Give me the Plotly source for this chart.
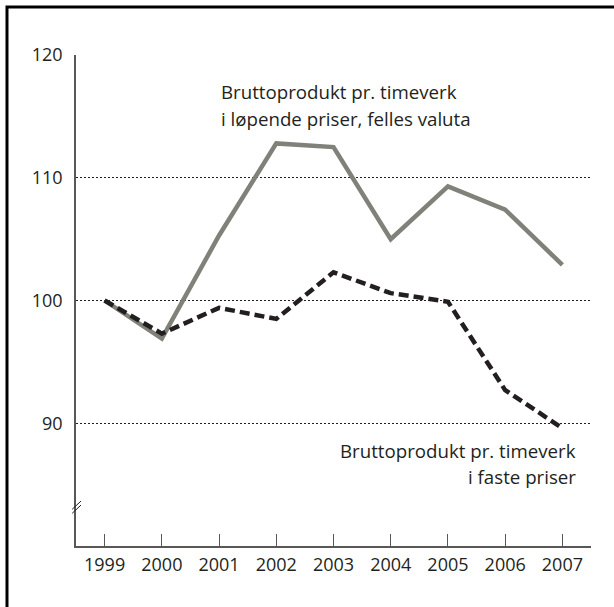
import plotly.graph_objects as go

# data
years = [1999, 2000, 2001, 2002, 2003, 2004, 2005, 2006, 2007]
lopende = [100, 96.9, 105.3, 112.8, 112.5, 105.0, 109.3, 107.4, 102.9]
faste = [100, 97.3, 99.4, 98.5, 102.3, 100.6, 99.9, 92.7, 89.6]
y_ticks = [90, 100, 110, 120]

ink = "#231f20"
axis_col = "#5b5756"
font = "Open Sans"
label_size = 18.7

fig = go.Figure()
fig.add_trace(go.Scatter(x=years, y=lopende, mode="lines",
                         line=dict(color="#80827a", width=4.5)))
fig.add_trace(go.Scatter(x=years, y=faste, mode="lines",
                         line=dict(color=ink, width=4.5, dash="10px,5px")))

# labels
lab_font = dict(family=font, size=label_size, color=ink)
fig.add_annotation(x=2001.0, y=117.0, text="Bruttoprodukt pr. timeverk",
                   xanchor="left", yanchor="middle", showarrow=False, font=lab_font)
fig.add_annotation(x=2001.0, y=114.85, text="i løpende priser, felles valuta",
                   xanchor="left", yanchor="middle", showarrow=False, font=lab_font)
fig.add_annotation(x=2007.28, y=87.75, text="Bruttoprodukt pr. timeverk",
                   xanchor="right", yanchor="middle", showarrow=False, font=lab_font)
fig.add_annotation(x=2007.28, y=85.7, text="i faste priser",
                   xanchor="right", yanchor="middle", showarrow=False, font=lab_font)

# axis break marks
fig.add_shape(type="line", xref="paper", yref="y", x0=-0.0075, y0=82.99,
              x1=0.0097, y1=83.66, line=dict(color=ink, width=1))
fig.add_shape(type="line", xref="paper", yref="y", x0=-0.0075, y0=82.66,
              x1=0.0097, y1=83.33, line=dict(color=ink, width=1))

# frame (only left and top edge fall inside the picture)
fig.add_shape(type="rect", xref="paper", yref="paper", x0=-0.134, y0=-0.2,
              x1=1.2, y1=1.0978, line=dict(color="black", width=3))

fig.update_layout(
    width=614, height=607,
    margin=dict(l=76, r=23, t=55, b=61, autoexpand=False),
    paper_bgcolor="white", plot_bgcolor="white",
    showlegend=False,
    font=dict(family=font, size=18, color=ink),
)
fig.update_xaxes(range=[1998.5, 2007.5], tickvals=years, ticks="inside",
                 ticklen=12, tickwidth=1.2, tickcolor=axis_col,
                 showline=True, linecolor=axis_col, linewidth=1.5,
                 showgrid=False, zeroline=False, ticklabelstandoff=2,
                 tickfont=dict(size=18, color=ink))
fig.update_yaxes(range=[80, 120], tickvals=y_ticks, ticks="",
                 showline=True, linecolor=axis_col, linewidth=1.5,
                 showgrid=True, gridcolor=ink, gridwidth=1, griddash="2px,2px",
                 zeroline=False, ticklabelstandoff=8,
                 tickfont=dict(size=18, color=ink))

# drop the default body margin so the figure sits at the page corner
fig.write_html("out.html", config={"displayModeBar": False},
               post_script="document.body.style.margin='0';")
